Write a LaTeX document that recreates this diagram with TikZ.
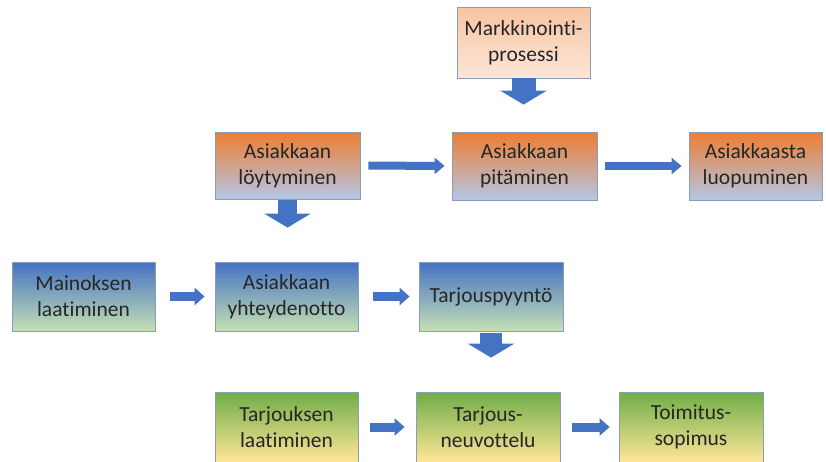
\documentclass[tikz,border=0pt]{standalone}
\usepackage{fontspec}
\setmainfont[Ligatures={NoCommon}]{Carlito}
\usetikzlibrary{arrows.meta}
\definecolor{boxline}{RGB}{140,156,180}
\definecolor{arrowblue}{RGB}{68,114,196}
\definecolor{mOrange}{RGB}{237,125,49}
\definecolor{mPeach}{RGB}{247,196,162}
\definecolor{mPeachLight}{RGB}{252,230,215}
\definecolor{mSky}{RGB}{180,199,231}
\definecolor{mBlue}{RGB}{68,114,196}
\definecolor{mLime}{RGB}{197,224,180}
\definecolor{mGreen}{RGB}{112,173,71}
\definecolor{mYellow}{RGB}{255,230,153}
\definecolor{txt}{RGB}{38,38,38}

\begin{document}
\begin{tikzpicture}[x=1pt, y=1pt,
    every node/.style={font=\fontsize{21.5}{26}\selectfont, text=txt},
    box/.style={draw=boxline, line width=0.8pt, minimum width=145pt,
      minimum height=68pt, align=center, inner sep=0pt, shading=axis},
    peach/.style={box, top color=mPeach, bottom color=mPeachLight},
    orangeblue/.style={box, top color=mOrange, bottom color=mSky, middle color=mOrange!50!mSky},
    bluegreen/.style={box, top color=mBlue, bottom color=mLime, middle color=mBlue!50!mLime},
    greenyellow/.style={box, top color=mGreen, bottom color=mYellow, middle color=mGreen!50!mYellow},
    flatarrow/.style={arrowblue, line width=8pt, -{Triangle[length=10pt, width=16pt]}},
    flatarrowb/.style={arrowblue, line width=9pt, -{Triangle[length=10pt, width=17pt]}},
    downarrow/.style={arrowblue, line width=22pt, -{Triangle[length=14pt, width=46pt]}}]
    \useasboundingbox (0,0) rectangle (826,-461);
    % --- top: marketing process ---
    \node[peach, minimum width=133pt, minimum height=71pt] (mark) at (523.5,-42.5) {Markkinointi-\\prosessi};
    % --- row 2 ---
    \node[orangeblue, minimum height=67pt] (loyt) at (287.5,-165.5) {Asiakkaan\\löytyminen};
    \node[orangeblue] (pita) at (524.5,-166) {Asiakkaan\\pitäminen};
    \node[orangeblue, minimum width=133pt] (luop) at (755.5,-166) {Asiakkaasta\\luopuminen};
    % --- row 3 ---
    \node[bluegreen, minimum width=143pt, minimum height=69pt] (main) at (83.5,-296.5) {Mainoksen\\laatiminen};
    \node[bluegreen, minimum width=143pt, minimum height=69pt] (yht) at (286.5,-296.5) {Asiakkaan\\yhteydenotto};
    \node[bluegreen, minimum width=144pt, minimum height=69pt] (tarjp) at (491,-296.5) {Tarjouspyyntö};
    % --- row 4 (cut at the bottom edge) ---
    \node[greenyellow, minimum width=143pt, minimum height=70pt] (tarjl) at (286.5,-427) {Tarjouksen\\laatiminen};
    \node[greenyellow, minimum width=144pt, minimum height=70pt] (neuv) at (488,-427) {Tarjous-\\neuvottelu};
    \node[greenyellow, minimum width=144pt, minimum height=70pt] (toim) at (691,-427) {Toimitus-\\sopimus};
    % block arrows
    \draw[downarrow, line width=24pt, shorten >=27pt] (mark.south) -- (mark.south |- pita.north);
    \draw[flatarrow, shorten <=8pt, shorten >=7pt] (loyt.east) -- (pita.west);
    \draw[flatarrow, shorten <=8pt, shorten >=7pt] (pita.east) -- (luop.west);
    \draw[downarrow, line width=19pt, shorten <=1pt, shorten >=34pt] (loyt.south) -- (loyt.south |- yht.north);
    \draw[flatarrowb, shorten <=15pt, shorten >=10pt] (main.east) -- (yht.west);
    \draw[flatarrowb, shorten <=15pt, shorten >=9pt] (yht.east) -- (tarjp.west);
    \draw[downarrow, shorten <=2pt, shorten >=34pt] (tarjp.south) -- (tarjp.south |- neuv.north);
    \draw[flatarrowb, shorten <=12pt, shorten >=11pt] (tarjl.east) -- (neuv.west);
    \draw[flatarrowb, shorten <=12pt, shorten >=9pt] (neuv.east) -- (toim.west);
\end{tikzpicture}
\end{document}
